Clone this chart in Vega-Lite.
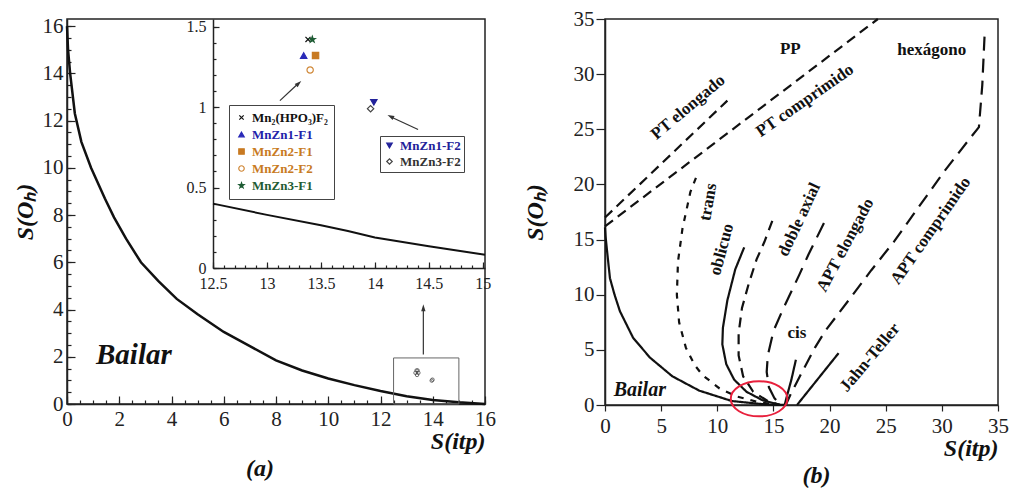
{
"$schema":"https://vega.github.io/schema/vega-lite/v6.json",
"background":"white",
"padding":{"left":12,"top":7,"right":5,"bottom":0},
"spacing":25,
"config":{
 "font":"Liberation Serif",
 "view":{"stroke":"#222","strokeWidth":1.5},
 "axis":{"labelFont":"Liberation Serif","labelFontSize":21,"labelColor":"#222","titleFont":"Liberation Serif","titleFontSize":24,"titleFontStyle":"italic","titleFontWeight":"bold","titleColor":"#111","domainColor":"#222","domainWidth":1.5,"tickColor":"#222","tickWidth":1.2,"grid":false,"labelFlush":false,"labelOverlap":false},
 "title":{"font":"Liberation Serif","fontSize":24,"fontStyle":"italic","fontWeight":"bold","color":"#111"}
},
"datasets":{
 "bailarA":[
  {"k":0,"x":0,"y":16},{"k":1,"x":0.04,"y":15},{"k":2,"x":0.12,"y":14},{"k":3,"x":0.3,"y":12.3},{"k":4,"x":0.55,"y":11.1},{"k":5,"x":0.92,"y":10},{"k":6,"x":1.45,"y":8.7},{"k":7,"x":1.8,"y":7.9},{"k":8,"x":2.26,"y":7.0},{"k":9,"x":2.83,"y":6.0},{"k":10,"x":3.5,"y":5.2},{"k":11,"x":4.2,"y":4.45},{"k":12,"x":5.0,"y":3.8},{"k":13,"x":6.0,"y":3.05},{"k":14,"x":7.0,"y":2.45},{"k":15,"x":8.0,"y":1.85},{"k":16,"x":9.0,"y":1.42},{"k":17,"x":10.0,"y":1.08},{"k":18,"x":11.0,"y":0.8},{"k":19,"x":12.0,"y":0.55},{"k":20,"x":13.0,"y":0.33},{"k":21,"x":14.0,"y":0.17},{"k":22,"x":15.0,"y":0.07},{"k":23,"x":16.0,"y":0.0}
 ],
 "insetCurve":[
  {"k":0,"x":12.5,"y":0.40},{"k":1,"x":13.0,"y":0.33},{"k":2,"x":13.5,"y":0.265},{"k":3,"x":13.75,"y":0.23},{"k":4,"x":14.0,"y":0.19},{"k":5,"x":14.5,"y":0.135},{"k":6,"x":15.02,"y":0.083}
 ],
 "markers":[
  {"series":"Mn₂(HPO₃)F₂","grp":1,"x":13.38,"y":1.42},
  {"series":"MnZn1-F1","grp":1,"x":13.34,"y":1.32},
  {"series":"MnZn2-F1","grp":1,"x":13.45,"y":1.32},
  {"series":"MnZn2-F2","grp":1,"x":13.40,"y":1.23},
  {"series":"MnZn3-F1","grp":1,"x":13.42,"y":1.42},
  {"series":"MnZn1-F2","grp":2,"x":13.99,"y":1.03},
  {"series":"MnZn3-F2","grp":2,"x":13.96,"y":0.99}
 ],
 "linesB":[
  {"c":"Bailar","k":0,"x":0,"y":16.1},{"c":"Bailar","k":1,"x":0.05,"y":15.3},{"c":"Bailar","k":2,"x":0.15,"y":14.3},{"c":"Bailar","k":3,"x":0.44,"y":11.5},{"c":"Bailar","k":4,"x":0.85,"y":10},{"c":"Bailar","k":5,"x":1.33,"y":8.5},{"c":"Bailar","k":6,"x":2.5,"y":6.1},{"c":"Bailar","k":7,"x":4.0,"y":4.3},{"c":"Bailar","k":8,"x":6.0,"y":2.6},{"c":"Bailar","k":9,"x":8.4,"y":1.3},{"c":"Bailar","k":10,"x":11.3,"y":0.36},{"c":"Bailar","k":11,"x":14.3,"y":0.05},{"c":"Bailar","k":12,"x":16,"y":0},
  {"c":"trans","k":0,"x":8.1,"y":20.6},{"c":"trans","k":1,"x":7.6,"y":19.3},{"c":"trans","k":2,"x":6.9,"y":16},{"c":"trans","k":3,"x":6.5,"y":13},{"c":"trans","k":4,"x":6.4,"y":10},{"c":"trans","k":5,"x":6.6,"y":7.5},{"c":"trans","k":6,"x":7.2,"y":5.2},{"c":"trans","k":7,"x":8.0,"y":3.6},{"c":"trans","k":8,"x":8.7,"y":2.7},{"c":"trans","k":9,"x":10.2,"y":1.5},{"c":"trans","k":10,"x":11.8,"y":0.75},{"c":"trans","k":11,"x":13.7,"y":0.25},{"c":"trans","k":12,"x":15.6,"y":0},
  {"c":"oblicuo","k":0,"x":12.4,"y":14.3},{"c":"oblicuo","k":1,"x":11.6,"y":12.3},{"c":"oblicuo","k":2,"x":10.9,"y":9.5},{"c":"oblicuo","k":3,"x":10.5,"y":7},{"c":"oblicuo","k":4,"x":10.45,"y":5.5},{"c":"oblicuo","k":5,"x":10.8,"y":3.7},{"c":"oblicuo","k":6,"x":11.5,"y":2.3},{"c":"oblicuo","k":7,"x":12.6,"y":1.2},{"c":"oblicuo","k":8,"x":14,"y":0.45},{"c":"oblicuo","k":9,"x":15.6,"y":0},
  {"c":"doble","k":0,"x":14.9,"y":16.7},{"c":"doble","k":1,"x":14.2,"y":14.8},{"c":"doble","k":2,"x":13.5,"y":13.2},{"c":"doble","k":3,"x":12.8,"y":11},{"c":"doble","k":4,"x":12.2,"y":8.8},{"c":"doble","k":5,"x":11.9,"y":6.5},{"c":"doble","k":6,"x":11.9,"y":4.5},{"c":"doble","k":7,"x":12.3,"y":2.6},{"c":"doble","k":8,"x":13.2,"y":1.2},{"c":"doble","k":9,"x":14.5,"y":0.35},{"c":"doble","k":10,"x":15.6,"y":0},
  {"c":"APTe","k":0,"x":19.5,"y":16.5},{"c":"APTe","k":1,"x":18.1,"y":13.6},{"c":"APTe","k":2,"x":17.3,"y":11.8},{"c":"APTe","k":3,"x":15.9,"y":8.8},{"c":"APTe","k":4,"x":15.0,"y":6.7},{"c":"APTe","k":5,"x":14.5,"y":4.5},{"c":"APTe","k":6,"x":14.4,"y":3.0},{"c":"APTe","k":7,"x":14.6,"y":1.6},{"c":"APTe","k":8,"x":15.1,"y":0.6},{"c":"APTe","k":9,"x":15.7,"y":0},
  {"c":"cis","k":0,"x":17.0,"y":4.1},{"c":"cis","k":1,"x":16.6,"y":2.3},{"c":"cis","k":2,"x":16.2,"y":0.8},{"c":"cis","k":3,"x":16.0,"y":0},
  {"c":"APTc","k":0,"x":33.8,"y":33.4},{"c":"APTc","k":1,"x":33.6,"y":29},{"c":"APTc","k":2,"x":33.3,"y":25.2},{"c":"APTc","k":3,"x":32.6,"y":24.3},{"c":"APTc","k":4,"x":30.3,"y":21.3},{"c":"APTc","k":5,"x":27.9,"y":17.9},{"c":"APTc","k":6,"x":25.8,"y":14.9},{"c":"APTc","k":7,"x":23.7,"y":12.2},{"c":"APTc","k":8,"x":21.7,"y":9.5},{"c":"APTc","k":9,"x":19.6,"y":6.7},{"c":"APTc","k":10,"x":18.7,"y":5.2},{"c":"APTc","k":11,"x":17.3,"y":2.5},{"c":"APTc","k":12,"x":16.5,"y":0.9},{"c":"APTc","k":13,"x":16.1,"y":0},
  {"c":"JT","k":0,"x":20.8,"y":4.7},{"c":"JT","k":1,"x":17.1,"y":0},
  {"c":"PTe","k":0,"x":0,"y":17.0},{"c":"PTe","k":1,"x":10.9,"y":27.6},
  {"c":"PTc","k":0,"x":0,"y":16.2},{"c":"PTc","k":1,"x":24.3,"y":35}
 ]
},
"hconcat":[
 {
  "width":418,"height":385,
  "title":{"text":"(a)","orient":"bottom","anchor":"middle","offset":4,"dx":-16},
  "layer":[
   {
    "layer":[
     {"data":{"name":"bailarA"},"mark":{"type":"line","color":"#111","strokeWidth":2.5},
      "encoding":{
       "x":{"field":"x","type":"quantitative","scale":{"domain":[0,16],"nice":false,"zero":false},
        "axis":{"orient":"bottom","values":[0,2,4,6,8,10,12,14,16],"format":"~g","labelFont":"Liberation Serif","tickSize":-8,"labelPadding":12,"title":"S(itp)","titleAnchor":"end","titlePadding":0}},
       "y":{"field":"y","type":"quantitative","scale":{"domain":[0,16.3],"nice":false,"zero":false},
        "axis":{"orient":"left","values":[0,2,4,6,8,10,12,14,16],"format":"~g","labelFont":"Liberation Serif","tickSize":-8,"labelPadding":12,"title":"S(Oₕ)","titlePadding":5}},
       "order":{"field":"k","type":"quantitative"}}},
     {"data":{"name":"bailarA"},"mark":{"type":"line","opacity":0},
      "encoding":{
       "x":{"field":"x","type":"quantitative","scale":{"domain":[0,16],"nice":false,"zero":false},
        "axis":{"orient":"bottom","values":[0,0.5,1,1.5,2,2.5,3,3.5,4,4.5,5,5.5,6,6.5,7,7.5,8,8.5,9,9.5,10,10.5,11,11.5,12,12.5,13,13.5,14,14.5,15,15.5,16],"labels":false,"domain":false,"tickSize":-4,"title":null}},
       "y":{"field":"y","type":"quantitative","scale":{"domain":[0,16.3],"nice":false,"zero":false},
        "axis":{"orient":"left","values":[0,0.5,1,1.5,2,2.5,3,3.5,4,4.5,5,5.5,6,6.5,7,7.5,8,8.5,9,9.5,10,10.5,11,11.5,12,12.5,13,13.5,14,14.5,15,15.5,16],"labels":false,"domain":false,"tickSize":-4,"title":null}},
       "order":{"field":"k","type":"quantitative"}}},
     {"data":{"name":"markers"},"mark":{"type":"point","filled":false,"size":12,"color":"#333","strokeWidth":1},
      "encoding":{
       "x":{"field":"x","type":"quantitative","scale":{"domain":[0,16],"nice":false,"zero":false},"axis":null},
       "y":{"field":"y","type":"quantitative","scale":{"domain":[0,16.3],"nice":false,"zero":false},"axis":null}}},
     {"data":{"values":[{}]},"mark":{"type":"rect","fill":"transparent","stroke":"#666","strokeWidth":1},
      "encoding":{
       "x":{"datum":12.5,"type":"quantitative","scale":{"domain":[0,16],"nice":false,"zero":false},"axis":null},"x2":{"datum":15},
       "y":{"datum":0,"type":"quantitative","scale":{"domain":[0,16.3],"nice":false,"zero":false},"axis":null},"y2":{"datum":1.95}}},
     {"data":{"values":[{}]},"mark":{"type":"rule","color":"#333","strokeWidth":1.2},
      "encoding":{
       "x":{"datum":13.64,"type":"quantitative","scale":{"domain":[0,16],"nice":false,"zero":false},"axis":null},
       "y":{"datum":2.1,"type":"quantitative","scale":{"domain":[0,16.3],"nice":false,"zero":false},"axis":null},"y2":{"datum":4.0}}},
     {"data":{"values":[{}]},"mark":{"type":"point","shape":"M0,-1L0.55,0.7L-0.55,0.7Z","size":64,"filled":true,"color":"#333","opacity":1},
      "encoding":{
       "x":{"datum":13.64,"type":"quantitative","scale":{"domain":[0,16],"nice":false,"zero":false},"axis":null},
       "y":{"datum":4.05,"type":"quantitative","scale":{"domain":[0,16.3],"nice":false,"zero":false},"axis":null}}},
     {"data":{"values":[{}]},"mark":{"type":"text","text":"Bailar","font":"Liberation Serif","fontSize":29,"fontStyle":"italic","fontWeight":"bold","color":"#111","align":"center","baseline":"middle"},
      "encoding":{
       "x":{"datum":2.56,"type":"quantitative","scale":{"domain":[0,16],"nice":false,"zero":false},"axis":null},
       "y":{"datum":2.07,"type":"quantitative","scale":{"domain":[0,16.3],"nice":false,"zero":false},"axis":null}}}
    ],
    "resolve":{"axis":{"x":"independent","y":"independent"}}
   },
   {
    "layer":[
     {"data":{"name":"insetCurve"},"mark":{"type":"line","color":"#111","strokeWidth":2},
      "encoding":{
       "x":{"field":"x","type":"quantitative","scale":{"domain":[12.5,15.02],"range":[146,418],"nice":false,"zero":false},
        "axis":{"orient":"bottom","offset":-136,"values":[12.5,13,13.5,14,14.5,15],"format":"~g","labelFont":"Liberation Serif","tickSize":-6,"labelPadding":13,"labelFontSize":16,"title":null}},
       "y":{"field":"y","type":"quantitative","scale":{"domain":[0,1.547],"range":[249,0],"nice":false,"zero":false},
        "axis":{"orient":"left","offset":-146,"values":[0,0.5,1,1.5],"format":"~g","labelFont":"Liberation Serif","tickSize":-6,"labelPadding":13,"labelFontSize":16,"title":null}},
       "order":{"field":"k","type":"quantitative"}}},
     {"data":{"name":"insetCurve"},"mark":{"type":"line","opacity":0},
      "encoding":{
       "x":{"field":"x","type":"quantitative","scale":{"domain":[12.5,15.02],"range":[146,418],"nice":false,"zero":false},
        "axis":{"orient":"bottom","offset":-136,"values":[12.5,12.6,12.7,12.8,12.9,13,13.1,13.2,13.3,13.4,13.5,13.6,13.7,13.8,13.9,14,14.1,14.2,14.3,14.4,14.5,14.6,14.7,14.8,14.9,15],"labels":false,"domain":false,"tickSize":-3,"title":null}},
       "y":{"field":"y","type":"quantitative","scale":{"domain":[0,1.547],"range":[249,0],"nice":false,"zero":false},
        "axis":{"orient":"left","offset":-146,"values":[0,0.1,0.2,0.3,0.4,0.5,0.6,0.7,0.8,0.9,1,1.1,1.2,1.3,1.4,1.5],"labels":false,"domain":false,"tickSize":-3,"title":null}},
       "order":{"field":"k","type":"quantitative"}}},
     {"data":{"name":"markers"},"transform":[{"filter":"datum.grp == 1"}],
      "mark":{"type":"point","size":40,"strokeWidth":1.2,"opacity":1},
      "encoding":{
       "x":{"field":"x","type":"quantitative","scale":{"domain":[12.5,15.02],"range":[146,418],"nice":false,"zero":false},"axis":null},
       "y":{"field":"y","type":"quantitative","scale":{"domain":[0,1.547],"range":[249,0],"nice":false,"zero":false},"axis":null},
       "shape":{"field":"series","type":"nominal","scale":{"domain":["Mn₂(HPO₃)F₂","MnZn1-F1","MnZn2-F1","MnZn2-F2","MnZn3-F1"],"range":["M-0.8,-0.8L0.8,0.8M-0.8,0.8L0.8,-0.8","triangle-up","square","circle","M0,-1L0.24,-0.33L0.95,-0.31L0.38,0.12L0.59,0.81L0,0.4L-0.59,0.81L-0.38,0.12L-0.95,-0.31L-0.24,-0.33Z"]},
        "legend":{"orient":"none","legendX":162,"legendY":86,"title":null,"strokeColor":"#444","fillColor":"white","padding":6,"labelFont":"Liberation Serif","labelFontSize":13,"labelFontWeight":"bold","labelColor":{"expr":"datum.value === 'MnZn1-F1' ? '#2222aa' : (datum.value === 'MnZn2-F1' || datum.value === 'MnZn2-F2') ? '#c87a22' : datum.value === 'MnZn3-F1' ? '#1e5c34' : '#111111'"},"symbolSize":30,"symbolStrokeWidth":1.2,"rowPadding":3,"labelLimit":300}},
       "fill":{"field":"series","type":"nominal","scale":{"domain":["Mn₂(HPO₃)F₂","MnZn1-F1","MnZn2-F1","MnZn2-F2","MnZn3-F1"],"range":["transparent","#2a2ab8","#c87a22","white","#1e5c34"]},
        "legend":{"orient":"none","legendX":162,"legendY":86,"title":null,"strokeColor":"#444","fillColor":"white","padding":6,"labelFont":"Liberation Serif","labelFontSize":13,"labelFontWeight":"bold","labelColor":{"expr":"datum.value === 'MnZn1-F1' ? '#2222aa' : (datum.value === 'MnZn2-F1' || datum.value === 'MnZn2-F2') ? '#c87a22' : datum.value === 'MnZn3-F1' ? '#1e5c34' : '#111111'"},"symbolSize":30,"symbolStrokeWidth":1.2,"rowPadding":3,"labelLimit":300}},
       "stroke":{"field":"series","type":"nominal","scale":{"domain":["Mn₂(HPO₃)F₂","MnZn1-F1","MnZn2-F1","MnZn2-F2","MnZn3-F1"],"range":["#111111","#2a2ab8","#c87a22","#d08838","#1e5c34"]},
        "legend":{"orient":"none","legendX":162,"legendY":86,"title":null,"strokeColor":"#444","fillColor":"white","padding":6,"labelFont":"Liberation Serif","labelFontSize":13,"labelFontWeight":"bold","labelColor":{"expr":"datum.value === 'MnZn1-F1' ? '#2222aa' : (datum.value === 'MnZn2-F1' || datum.value === 'MnZn2-F2') ? '#c87a22' : datum.value === 'MnZn3-F1' ? '#1e5c34' : '#111111'"},"symbolSize":30,"symbolStrokeWidth":1.2,"rowPadding":3,"labelLimit":300}}}},
     {"data":{"name":"markers"},"transform":[{"filter":"datum.grp == 2"}],
      "mark":{"type":"point","size":40,"strokeWidth":1.2,"opacity":1},
      "encoding":{
       "x":{"field":"x","type":"quantitative","scale":{"domain":[12.5,15.02],"range":[146,418],"nice":false,"zero":false},"axis":null},
       "y":{"field":"y","type":"quantitative","scale":{"domain":[0,1.547],"range":[249,0],"nice":false,"zero":false},"axis":null},
       "shape":{"field":"series","type":"nominal","scale":{"domain":["MnZn1-F2","MnZn3-F2"],"range":["triangle-down","diamond"]},
        "legend":{"orient":"none","legendX":313,"legendY":117,"title":null,"strokeColor":"#444","fillColor":"white","padding":3,"labelFont":"Liberation Serif","labelFontSize":13,"labelFontWeight":"bold","labelColor":{"expr":"datum.value === 'MnZn1-F2' ? '#22229a' : '#333333'"},"symbolSize":30,"symbolStrokeWidth":1.2,"rowPadding":2,"labelLimit":300}},
       "fill":{"field":"series","type":"nominal","scale":{"domain":["MnZn1-F2","MnZn3-F2"],"range":["#22229a","white"]},
        "legend":{"orient":"none","legendX":313,"legendY":117,"title":null,"strokeColor":"#444","fillColor":"white","padding":3,"labelFont":"Liberation Serif","labelFontSize":13,"labelFontWeight":"bold","labelColor":{"expr":"datum.value === 'MnZn1-F2' ? '#22229a' : '#333333'"},"symbolSize":30,"symbolStrokeWidth":1.2,"rowPadding":2,"labelLimit":300}},
       "stroke":{"field":"series","type":"nominal","scale":{"domain":["MnZn1-F2","MnZn3-F2"],"range":["#22229a","#444444"]},
        "legend":{"orient":"none","legendX":313,"legendY":117,"title":null,"strokeColor":"#444","fillColor":"white","padding":3,"labelFont":"Liberation Serif","labelFontSize":13,"labelFontWeight":"bold","labelColor":{"expr":"datum.value === 'MnZn1-F2' ? '#22229a' : '#333333'"},"symbolSize":30,"symbolStrokeWidth":1.2,"rowPadding":2,"labelLimit":300}}}},
     {"data":{"values":[{}]},"mark":{"type":"rule","color":"#333","strokeWidth":1.2},
      "encoding":{
       "x":{"datum":13.12,"type":"quantitative","scale":{"domain":[12.5,15.02],"range":[146,418],"nice":false,"zero":false},"axis":null},"x2":{"datum":13.28},
       "y":{"datum":1.04,"type":"quantitative","scale":{"domain":[0,1.547],"range":[249,0],"nice":false,"zero":false},"axis":null},"y2":{"datum":1.14}}},
     {"data":{"values":[{}]},"mark":{"type":"point","shape":"M0,-1L0.55,0.7L-0.55,0.7Z","size":64,"filled":true,"color":"#333","angle":48,"opacity":1},
      "encoding":{
       "x":{"datum":13.29,"type":"quantitative","scale":{"domain":[12.5,15.02],"range":[146,418],"nice":false,"zero":false},"axis":null},
       "y":{"datum":1.145,"type":"quantitative","scale":{"domain":[0,1.547],"range":[249,0],"nice":false,"zero":false},"axis":null}}},
     {"data":{"values":[{}]},"mark":{"type":"rule","color":"#333","strokeWidth":1.2},
      "encoding":{
       "x":{"datum":14.40,"type":"quantitative","scale":{"domain":[12.5,15.02],"range":[146,418],"nice":false,"zero":false},"axis":null},"x2":{"datum":14.16},
       "y":{"datum":0.86,"type":"quantitative","scale":{"domain":[0,1.547],"range":[249,0],"nice":false,"zero":false},"axis":null},"y2":{"datum":0.935}}},
     {"data":{"values":[{}]},"mark":{"type":"point","shape":"M0,-1L0.55,0.7L-0.55,0.7Z","size":64,"filled":true,"color":"#333","angle":297,"opacity":1},
      "encoding":{
       "x":{"datum":14.15,"type":"quantitative","scale":{"domain":[12.5,15.02],"range":[146,418],"nice":false,"zero":false},"axis":null},
       "y":{"datum":0.94,"type":"quantitative","scale":{"domain":[0,1.547],"range":[249,0],"nice":false,"zero":false},"axis":null}}}
    ],
    "resolve":{"axis":{"x":"independent","y":"independent"},"scale":{"shape":"independent","fill":"independent","stroke":"independent"}}
   }
  ],
  "resolve":{"scale":{"x":"independent","y":"independent"},"axis":{"x":"independent","y":"independent"}}
 },
 {
  "width":393,"height":386,
  "title":{"text":"(b)","orient":"bottom","anchor":"middle","offset":4,"dx":15},
  "layer":[
   {"data":{"name":"linesB"},"mark":{"type":"line","color":"#111","strokeWidth":2.2},
    "encoding":{
     "x":{"field":"x","type":"quantitative","scale":{"domain":[0,35],"nice":false,"zero":false},
      "axis":{"values":[0,5,10,15,20,25,30,35],"labelFont":"Liberation Serif","tickSize":6,"labelPadding":4,"title":"S(itp)","titleAnchor":"end","titlePadding":0}},
     "y":{"field":"y","type":"quantitative","scale":{"domain":[0,35],"nice":false,"zero":false},
      "axis":{"values":[0,5,10,15,20,25,30,35],"labelFont":"Liberation Serif","tickSize":9,"labelPadding":2,"title":"S(Oₕ)","titlePadding":26}},
     "strokeDash":{"field":"c","type":"nominal","scale":{"domain":["Bailar","trans","oblicuo","doble","APTe","cis","APTc","JT","PTe","PTc"],"range":[[1,0],[6,7],[1,0],[10,7],[16,9],[1,0],[14,8],[1,0],[10,6],[10,6]]},"legend":null},
     "order":{"field":"k","type":"quantitative"}}},
   {"data":{"values":[{}]},"mark":{"type":"point","shape":"M-1,0A1,0.62 0 1,0 1,0A1,0.62 0 1,0 -1,0Z","size":3204,"filled":false,"color":"#e8203c","strokeWidth":2,"opacity":1},
    "encoding":{"x":{"datum":13.72,"type":"quantitative","scale":{"domain":[0,35],"nice":false,"zero":false}},"y":{"datum":0.56,"type":"quantitative","scale":{"domain":[0,35],"nice":false,"zero":false}}}},
   {"data":{"values":[{}]},"mark":{"type":"text","text":"PT elongado","angle":320,"font":"Liberation Serif","fontSize":17,"fontWeight":"bold","color":"#111","align":"center","baseline":"middle"},
    "encoding":{"x":{"datum":7.4,"type":"quantitative","scale":{"domain":[0,35],"nice":false,"zero":false}},"y":{"datum":27.0,"type":"quantitative","scale":{"domain":[0,35],"nice":false,"zero":false}}}},
   {"data":{"values":[{}]},"mark":{"type":"text","text":"PT comprimido","angle":325,"font":"Liberation Serif","fontSize":17,"fontWeight":"bold","color":"#111","align":"center","baseline":"middle"},
    "encoding":{"x":{"datum":17.8,"type":"quantitative","scale":{"domain":[0,35],"nice":false,"zero":false}},"y":{"datum":27.6,"type":"quantitative","scale":{"domain":[0,35],"nice":false,"zero":false}}}},
   {"data":{"values":[{}]},"mark":{"type":"text","text":"PP","font":"Liberation Serif","fontSize":17,"fontWeight":"bold","color":"#111","align":"center","baseline":"middle"},
    "encoding":{"x":{"datum":16.5,"type":"quantitative","scale":{"domain":[0,35],"nice":false,"zero":false}},"y":{"datum":32.3,"type":"quantitative","scale":{"domain":[0,35],"nice":false,"zero":false}}}},
   {"data":{"values":[{}]},"mark":{"type":"text","text":"hexágono","font":"Liberation Serif","fontSize":17,"fontWeight":"bold","color":"#111","align":"center","baseline":"middle"},
    "encoding":{"x":{"datum":29.1,"type":"quantitative","scale":{"domain":[0,35],"nice":false,"zero":false}},"y":{"datum":32.2,"type":"quantitative","scale":{"domain":[0,35],"nice":false,"zero":false}}}},
   {"data":{"values":[{}]},"mark":{"type":"text","text":"trans","angle":280,"font":"Liberation Serif","fontSize":17,"fontWeight":"bold","color":"#111","align":"center","baseline":"middle"},
    "encoding":{"x":{"datum":9.2,"type":"quantitative","scale":{"domain":[0,35],"nice":false,"zero":false}},"y":{"datum":18.4,"type":"quantitative","scale":{"domain":[0,35],"nice":false,"zero":false}}}},
   {"data":{"values":[{}]},"mark":{"type":"text","text":"oblicuo","angle":285,"font":"Liberation Serif","fontSize":17,"fontWeight":"bold","color":"#111","align":"center","baseline":"middle"},
    "encoding":{"x":{"datum":10.4,"type":"quantitative","scale":{"domain":[0,35],"nice":false,"zero":false}},"y":{"datum":14.1,"type":"quantitative","scale":{"domain":[0,35],"nice":false,"zero":false}}}},
   {"data":{"values":[{}]},"mark":{"type":"text","text":"doble axial","angle":295,"font":"Liberation Serif","fontSize":17,"fontWeight":"bold","color":"#111","align":"center","baseline":"middle"},
    "encoding":{"x":{"datum":17.3,"type":"quantitative","scale":{"domain":[0,35],"nice":false,"zero":false}},"y":{"datum":16.8,"type":"quantitative","scale":{"domain":[0,35],"nice":false,"zero":false}}}},
   {"data":{"values":[{}]},"mark":{"type":"text","text":"APT elongado","angle":298,"font":"Liberation Serif","fontSize":17,"fontWeight":"bold","color":"#111","align":"center","baseline":"middle"},
    "encoding":{"x":{"datum":21.4,"type":"quantitative","scale":{"domain":[0,35],"nice":false,"zero":false}},"y":{"datum":14.5,"type":"quantitative","scale":{"domain":[0,35],"nice":false,"zero":false}}}},
   {"data":{"values":[{}]},"mark":{"type":"text","text":"cis","font":"Liberation Serif","fontSize":17,"fontWeight":"bold","color":"#111","align":"center","baseline":"middle"},
    "encoding":{"x":{"datum":17.1,"type":"quantitative","scale":{"domain":[0,35],"nice":false,"zero":false}},"y":{"datum":6.5,"type":"quantitative","scale":{"domain":[0,35],"nice":false,"zero":false}}}},
   {"data":{"values":[{}]},"mark":{"type":"text","text":"APT comprimido","angle":305,"font":"Liberation Serif","fontSize":17,"fontWeight":"bold","color":"#111","align":"center","baseline":"middle"},
    "encoding":{"x":{"datum":29.0,"type":"quantitative","scale":{"domain":[0,35],"nice":false,"zero":false}},"y":{"datum":15.8,"type":"quantitative","scale":{"domain":[0,35],"nice":false,"zero":false}}}},
   {"data":{"values":[{}]},"mark":{"type":"text","text":"Jahn-Teller","angle":310,"font":"Liberation Serif","fontSize":17,"fontWeight":"bold","color":"#111","align":"center","baseline":"middle"},
    "encoding":{"x":{"datum":23.6,"type":"quantitative","scale":{"domain":[0,35],"nice":false,"zero":false}},"y":{"datum":4.3,"type":"quantitative","scale":{"domain":[0,35],"nice":false,"zero":false}}}},
   {"data":{"values":[{}]},"mark":{"type":"text","text":"Bailar","font":"Liberation Serif","fontSize":20,"fontStyle":"italic","fontWeight":"bold","color":"#111","align":"center","baseline":"middle"},
    "encoding":{"x":{"datum":3.1,"type":"quantitative","scale":{"domain":[0,35],"nice":false,"zero":false}},"y":{"datum":1.36,"type":"quantitative","scale":{"domain":[0,35],"nice":false,"zero":false}}}}
  ]
 }
]
}
